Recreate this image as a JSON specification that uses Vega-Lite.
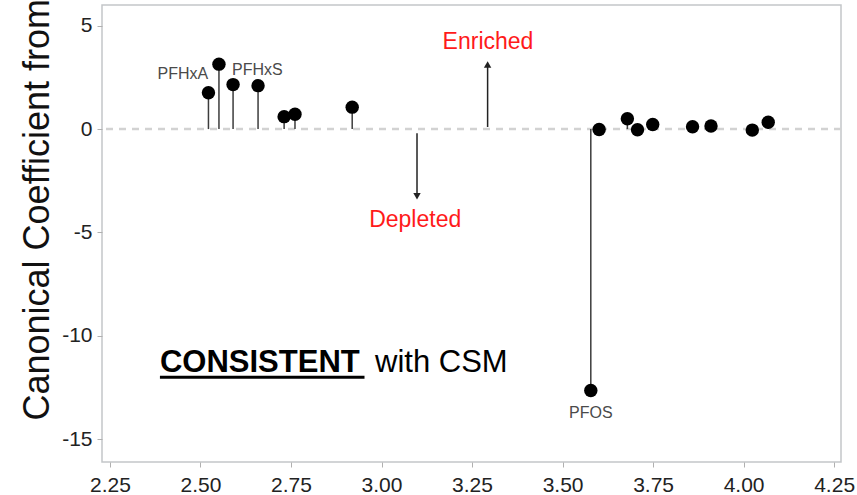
{
  "$schema": "https://vega.github.io/schema/vega-lite/v6.json",
  "autosize": {"type": "none"},
  "padding": {"left": 102, "top": 5, "right": 16, "bottom": 33},
  "width": 739,
  "height": 457,
  "background": "white",
  "config": {
    "font": "Liberation Sans",
    "view": {"stroke": "#c3c6c9", "strokeWidth": 1.5},
    "axis": {"grid": false, "domain": false, "tickColor": "#b0b0b0", "tickSize": 5, "labelFont": "Liberation Sans", "labelFontSize": 21, "labelColor": "#222222"}
  },
  "data": {
    "values": [
      {"x": 2.522, "y": 1.76},
      {"x": 2.551, "y": 3.14},
      {"x": 2.590, "y": 2.15},
      {"x": 2.659, "y": 2.10},
      {"x": 2.731, "y": 0.60},
      {"x": 2.761, "y": 0.72},
      {"x": 2.919, "y": 1.06},
      {"x": 3.578, "y": -12.64},
      {"x": 3.601, "y": -0.02},
      {"x": 3.679, "y": 0.50},
      {"x": 3.707, "y": -0.03},
      {"x": 3.749, "y": 0.22},
      {"x": 3.859, "y": 0.11},
      {"x": 3.910, "y": 0.15},
      {"x": 4.024, "y": -0.05},
      {"x": 4.068, "y": 0.33}
    ]
  },
  "encoding": {
    "x": {"type": "quantitative", "scale": {"domain": [2.228, 4.269], "nice": false, "zero": false}},
    "y": {"type": "quantitative", "scale": {"domain": [-16.1, 6.0], "nice": false, "zero": false}}
  },
  "layer": [
    {
      "data": {"values": [{}]},
      "mark": {"type": "rule", "color": "#d2d2d2", "strokeWidth": 2.5, "strokeDash": [7, 6]},
      "encoding": {"y": {"datum": 0, "type": "quantitative"}}
    },
    {
      "mark": {"type": "rule", "color": "#3c3c3c", "strokeWidth": 1.5},
      "encoding": {
        "x": {"field": "x", "type": "quantitative",
          "axis": {"values": [2.25, 2.5, 2.75, 3.0, 3.25, 3.5, 3.75, 4.0, 4.25], "format": ".2f", "title": null, "labelPadding": 7, "labelFlush": false}},
        "y": {"field": "y", "type": "quantitative",
          "axis": {"values": [5, 0, -5, -10, -15], "labelPadding": 5, "labelExpr": "replace(datum.label, '\u2212', '-')",
            "title": "Canonical Coefficient from", "titleFont": "Liberation Sans", "titleFontSize": 36, "titleFontWeight": "normal", "titleColor": "#111111",
            "titleAngle": 270, "titleAlign": "left", "titleBaseline": "alphabetic", "titleX": -54, "titleY": 415}},
        "y2": {"datum": 0}
      }
    },
    {
      "mark": {"type": "point", "filled": true, "fill": "#000000", "strokeWidth": 0, "opacity": 1, "size": 180, "shape": "circle"},
      "encoding": {
        "x": {"field": "x", "type": "quantitative"},
        "y": {"field": "y", "type": "quantitative"}
      }
    },
    {
      "data": {"values": [{}]},
      "mark": {"type": "rule", "color": "#222222", "strokeWidth": 1.5},
      "encoding": {"x": {"datum": 3.293}, "y": {"datum": 0.1}, "y2": {"datum": 3.05}}
    },
    {
      "data": {"values": [{}]},
      "mark": {"type": "point", "filled": true, "fill": "#222222", "strokeWidth": 0, "opacity": 1, "shape": "triangle-up", "size": 55},
      "encoding": {"x": {"datum": 3.293}, "y": {"datum": 3.12}}
    },
    {
      "data": {"values": [{}]},
      "mark": {"type": "rule", "color": "#222222", "strokeWidth": 1.5},
      "encoding": {"x": {"datum": 3.098}, "y": {"datum": -0.2}, "y2": {"datum": -3.15}}
    },
    {
      "data": {"values": [{}]},
      "mark": {"type": "point", "filled": true, "fill": "#222222", "strokeWidth": 0, "opacity": 1, "shape": "triangle-down", "size": 55},
      "encoding": {"x": {"datum": 3.098}, "y": {"datum": -3.25}}
    },
    {
      "data": {"values": [{}]},
      "mark": {"type": "text", "text": "Enriched", "fill": "#ff1a1a", "fontSize": 23, "align": "center", "baseline": "middle"},
      "encoding": {"x": {"datum": 3.294}, "y": {"datum": 4.2}}
    },
    {
      "data": {"values": [{}]},
      "mark": {"type": "text", "text": "Depleted", "fill": "#ff1a1a", "fontSize": 23, "align": "center", "baseline": "middle"},
      "encoding": {"x": {"datum": 3.093}, "y": {"datum": -4.4}}
    },
    {
      "data": {"values": [{}]},
      "mark": {"type": "text", "text": "PFHxA", "fill": "#4a4a4a", "fontSize": 16, "align": "right", "baseline": "middle"},
      "encoding": {"x": {"datum": 2.5215}, "y": {"datum": 2.66}}
    },
    {
      "data": {"values": [{}]},
      "mark": {"type": "text", "text": "PFHxS", "fill": "#4a4a4a", "fontSize": 16, "align": "left", "baseline": "middle"},
      "encoding": {"x": {"datum": 2.587}, "y": {"datum": 2.85}}
    },
    {
      "data": {"values": [{}]},
      "mark": {"type": "text", "text": "PFOS", "fill": "#4a4a4a", "fontSize": 16, "align": "center", "baseline": "middle"},
      "encoding": {"x": {"datum": 3.578}, "y": {"datum": -13.72}}
    },
    {
      "data": {"values": [{}]},
      "mark": {"type": "text", "text": "CONSISTENT", "fill": "#000000", "fontSize": 31, "fontWeight": "bold", "align": "left", "baseline": "alphabetic"},
      "encoding": {"x": {"datum": 2.388}, "y": {"datum": -11.75}}
    },
    {
      "data": {"values": [{}]},
      "mark": {"type": "rule", "color": "#000000", "strokeWidth": 3},
      "encoding": {"x": {"datum": 2.388}, "x2": {"datum": 2.953}, "y": {"datum": -12.0}}
    },
    {
      "data": {"values": [{}]},
      "mark": {"type": "text", "text": "with CSM", "fill": "#000000", "fontSize": 31, "align": "left", "baseline": "alphabetic"},
      "encoding": {"x": {"datum": 2.982}, "y": {"datum": -11.75}}
    }
  ]
}
